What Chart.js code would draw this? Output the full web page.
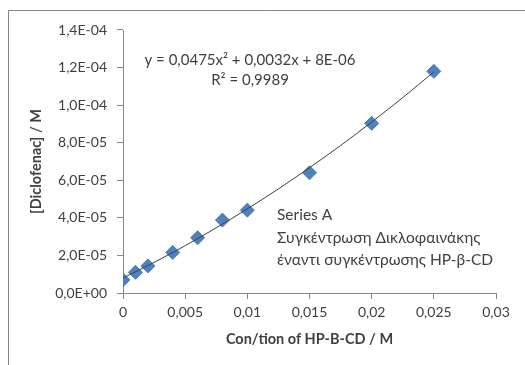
<!DOCTYPE html>
<html>
<head>
<meta charset="utf-8">
<script src="https://cdn.jsdelivr.net/npm/chart.js@4/dist/chart.umd.min.js"></script>
<style>
  html, body { margin: 0; padding: 0; background: #fff; }
  #wrap { width: 525px; height: 365px; position: relative; }
</style>
</head>
<body>
<div id="wrap"><canvas id="chart"></canvas></div>
<script>
// measured points (x = HP-B-CD conc., y = diclofenac conc.)
const concHPBCD = [0, 0.001, 0.002, 0.004, 0.006, 0.008, 0.01, 0.015, 0.02, 0.025];
const concDiclofenac = [7e-6, 1.1e-5, 1.44e-5, 2.16e-5, 2.94e-5, 3.88e-5, 4.41e-5, 6.4e-5, 9.03e-5, 1.18e-4];

// polynomial trendline
const trendX = [0, 0.0025, 0.005, 0.0075, 0.01, 0.0125, 0.015, 0.0175, 0.02, 0.0225, 0.025];
const trendY = [8e-6, 1.63e-5, 2.52e-5, 3.47e-5, 4.48e-5, 5.54e-5, 6.67e-5, 7.85e-5, 9.1e-5, 1.04e-4, 1.177e-4];

const xTickLabels = ['0', '0,005', '0,01', '0,015', '0,02', '0,025', '0,03'];
const yTickLabels = ['0,0E+00', '2,0E-05', '4,0E-05', '6,0E-05', '8,0E-05', '1,0E-04', '1,2E-04', '1,4E-04'];

const xTitle = 'Con/tion of HP-B-CD / M';
const yTitle = '[Diclofenac] / M';
const equationLines = ['y = 0,0475x² + 0,0032x + 8E-06', 'R² = 0,9989'];
const legendLines = ['Series A', 'Συγκέντρωση Δικλοφαινάκης', 'έναντι συγκέντρωσης HP-β-CD'];

const FONT = 'Lato, "Open Sans", sans-serif';
const TEXT = '#404040';
const AXIS = '#868686';

const toXY = (xs, ys) => xs.map((x, i) => ({ x: x, y: ys[i] }));

const frameAndText = {
  id: 'frameAndText',
  beforeDraw(chart) {
    const ctx = chart.ctx;
    ctx.save();
    ctx.fillStyle = '#fff';
    ctx.fillRect(0, 0, chart.width, chart.height);
    ctx.strokeStyle = AXIS;
    ctx.lineWidth = 1;
    ctx.beginPath();
    ctx.moveTo(8.5, chart.height);
    ctx.lineTo(8.5, 10.5);
    ctx.lineTo(chart.width, 10.5);
    ctx.stroke();
    ctx.restore();
  },
  afterDraw(chart) {
    const ctx = chart.ctx;
    ctx.save();
    ctx.fillStyle = TEXT;
    ctx.textBaseline = 'middle';
    ctx.font = '15px ' + FONT;
    ctx.textAlign = 'center';
    equationLines.forEach((t, i) => ctx.fillText(t, 250, 60 + i * 20));
    ctx.font = '15.5px ' + FONT;
    ctx.textAlign = 'left';
    legendLines.forEach((t, i) => ctx.fillText(t, 277, 215 + i * 22.5));
    ctx.restore();
  }
};

new Chart(document.getElementById('chart'), {
  type: 'scatter',
  data: {
    datasets: [
      {
        label: 'trend',
        type: 'line',
        data: toXY(trendX, trendY),
        borderColor: '#404040',
        borderWidth: 1,
        pointRadius: 0,
        fill: false,
        cubicInterpolationMode: 'monotone',
      },
      {
        label: 'Series A',
        data: toXY(concHPBCD, concDiclofenac),
        pointStyle: 'rectRot',
        pointRadius: 7,
        backgroundColor: '#4F81BD',
        borderColor: '#4A7EBB',
        borderWidth: 1,
      }
    ]
  },
  options: {
    responsive: true,
    maintainAspectRatio: false,
    animation: false,
    events: [],
    layout: { padding: { left: 0, top: 30, right: 29, bottom: 0 } },
    plugins: {
      legend: { display: false },
      tooltip: { enabled: false },
    },
    scales: {
      x: {
        type: 'linear',
        min: 0,
        max: 0.03,
        afterBuildTicks(scale) {
          scale.ticks = xTickLabels.map((_, i) => ({ value: i * 0.005 }));
        },
        afterFit(scale) { scale.height = 72; },
        grid: { drawOnChartArea: false, drawTicks: true, tickLength: 6, color: AXIS },
        border: { display: true, color: AXIS },
        ticks: {
          padding: 5,
          color: TEXT,
          font: { family: FONT, size: 14 },
          maxRotation: 0,
          callback: (v, i) => xTickLabels[i],
        },
        title: {
          display: true,
          text: xTitle,
          color: TEXT,
          font: { family: FONT, size: 14.5, weight: 'bold' },
          padding: { top: 0, bottom: 17 },
        },
      },
      y: {
        type: 'linear',
        min: 0,
        max: 1.4e-4,
        afterBuildTicks(scale) {
          scale.ticks = yTickLabels.map((_, i) => ({ value: i * 2e-5 }));
        },
        afterFit(scale) { scale.width = 123; },
        grid: { drawOnChartArea: false, drawTicks: true, tickLength: 6, color: AXIS },
        border: { display: true, color: AXIS },
        ticks: {
          padding: 10,
          color: TEXT,
          font: { family: FONT, size: 14 },
          callback: (v, i) => yTickLabels[i],
        },
        title: {
          display: true,
          text: yTitle,
          color: TEXT,
          font: { family: FONT, size: 14.5, weight: 'bold' },
          padding: { top: 28, bottom: 0 },
        },
      }
    }
  },
  plugins: [frameAndText]
});
</script>
</body>
</html>
